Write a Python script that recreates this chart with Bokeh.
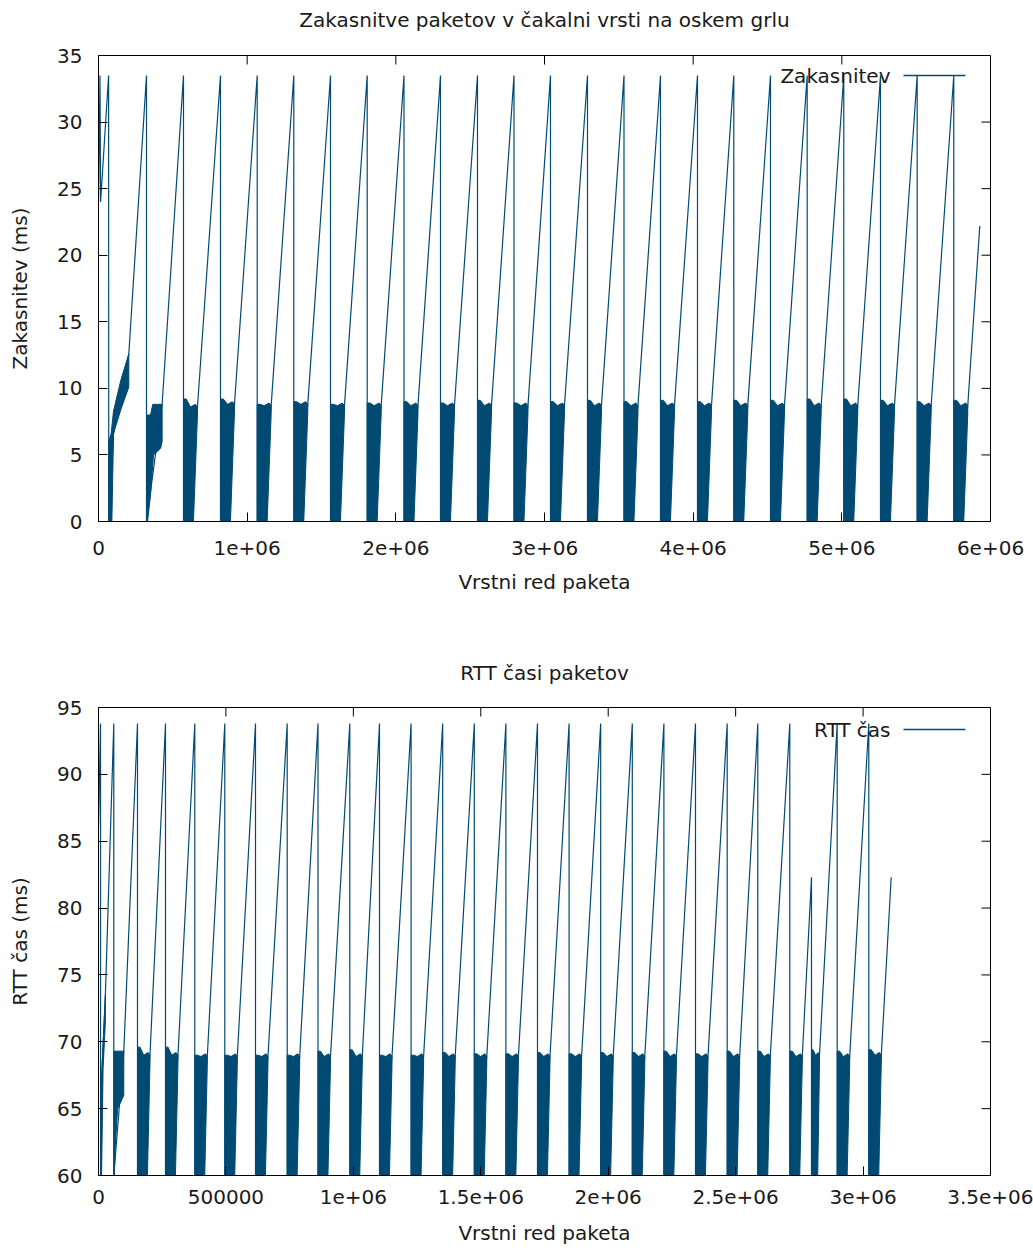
from bokeh.plotting import figure
from bokeh.models import Range1d, FixedTicker, Label, Arrow, LinearAxis
from bokeh.layouts import column
from bokeh.embed import file_html
from bokeh.resources import INLINE

COLOR = "#004a73"
FONT = "DejaVu Sans"
FS = "20px"
TXT = "#1a1a1a"
TICK_PX = 9

# ---------------- top panel: queue delay ----------------
TOP_TITLE = "Zakasnitve paketov v čakalni vrsti na oskem grlu"
TOP_YLABEL = "Zakasnitev (ms)"
TOP_LEGEND = "Zakasnitev"
XLABEL = "Vrstni red paketa"
TOP_X_TICKS = [0, 1000000, 2000000, 3000000, 4000000, 5000000, 6000000]
TOP_X_LABELS = ["0", "1e+06", "2e+06", "3e+06", "4e+06", "5e+06", "6e+06"]
TOP_Y_TICKS = [0, 5, 10, 15, 20, 25, 30, 35]

# opening trace (slow start) ending at start of the first ramp
top_head_x = [0, 10000, 14000, 68000, 69000, 101000, 204000]
top_head_y = [24.0, 33.5, 24.0, 33.5, 0.0, 6.6, 12.6]
# first noisy band (outline)
top_band0_x = [69000, 69000, 85000, 101000, 150000, 204000, 204000, 150000, 101000, 90000]
top_band0_y = [0.0, 6.0, 6.6, 8.3, 10.6, 12.6, 10.1, 8.4, 6.6, 0.0]
# second noisy block with raised floor (outline)
top_band1_x = [322900, 322900, 350000, 365000, 428000, 428000, 418000, 370000, 350000, 330000]
top_band1_y = [0.0, 8.0, 8.0, 8.8, 8.8, 6.0, 5.5, 5.0, 2.0, 0.0]
top_band1_end = (428000, 8.8)

top_peak_x = [322900, 571700, 820600, 1067500, 1313700, 1560500, 1807400, 2054900,
              2300400, 2549300, 2794800, 3040300, 3289200, 3534700, 3780200, 4029100,
              4273300, 4520100, 4766900, 5013100, 5260000, 5506800, 5753000]
top_peak_y = [33.5, 33.5, 33.5, 33.5, 33.5, 33.5, 33.5, 33.5, 33.5, 33.5, 33.5, 33.5,
              33.5, 33.5, 33.5, 33.5, 33.5, 33.5, 33.5, 33.5, 33.5, 33.5, 33.5]
# noisy blocks following peaks 2..23
top_blk_end = [665700, 914600, 1161500, 1407700, 1654500, 1901400, 2148900, 2394400,
               2643300, 2888800, 3134300, 3383200, 3628700, 3874200, 4123100, 4367300,
               4614100, 4860900, 5107100, 5354000, 5600800, 5847000]
top_blk_foot = [638700, 887600, 1134500, 1380700, 1627500, 1874400, 2121900, 2367400,
                2616300, 2861800, 3107300, 3356200, 3601700, 3847200, 4096100, 4340300,
                4587100, 4833900, 5080100, 5327000, 5573800, 5820000]
top_blk_hi = [9.2, 9.2, 8.8, 9.0, 8.8, 8.9, 9.0, 8.9, 9.1, 8.9, 9.0, 9.1,
              9.0, 9.1, 9.0, 9.1, 9.1, 9.2, 9.2, 9.1, 9.0, 9.1]
top_blk_lvl = [8.6, 8.8, 8.7, 8.8, 8.7, 8.7, 8.7, 8.7, 8.7, 8.7, 8.7, 8.7,
               8.7, 8.7, 8.7, 8.7, 8.7, 8.7, 8.7, 8.7, 8.7, 8.7]
top_tail = (5927900, 22.2)

# ---------------- bottom panel: RTT ----------------
BOT_TITLE = "RTT časi paketov"
BOT_YLABEL = "RTT čas (ms)"
BOT_LEGEND = "RTT čas"
BOT_X_TICKS = [0, 500000, 1000000, 1500000, 2000000, 2500000, 3000000, 3500000]
BOT_X_LABELS = ["0", "500000", "1e+06", "1.5e+06", "2e+06", "2.5e+06", "3e+06", "3.5e+06"]
BOT_Y_TICKS = [60, 65, 70, 75, 80, 85, 90, 95]

bot_head_x = [0, 8000, 8000, 15000, 27000]
bot_head_y = [86.0, 93.8, 60.0, 68.5, 73.5]
bot_band0_x = [8000, 8000, 15000, 27000, 27000, 18000, 12000]
bot_band0_y = [60.0, 66.0, 68.5, 73.5, 71.5, 68.0, 60.0]
bot_band1_x = [60030, 60030, 99300, 99300, 90000, 75000, 65000, 62000]
bot_band1_y = [60.0, 69.3, 69.3, 66.0, 65.6, 65.0, 62.0, 60.0]
bot_band1_end = (99300, 69.3)

bot_peak_x = [60030, 153020, 262890, 377850, 495570, 616020, 740410, 861260, 986030,
              1102570, 1226560, 1350550, 1474540, 1598520, 1722510, 1846500, 1970490,
              2094480, 2218470, 2342460, 2466840, 2586910, 2712470, 2797610, 2898450,
              3022440]
bot_peak_y = [93.8, 93.8, 93.8, 93.8, 93.8, 93.8, 93.8, 93.8, 93.8, 93.8, 93.8, 93.8,
              93.8, 93.8, 93.8, 93.8, 93.8, 93.8, 93.8, 93.8, 93.8, 93.8, 93.8, 82.3,
              93.8, 93.8]
bot_blk_end = [202000, 311900, 426900, 544600, 665000, 789400, 910300, 1035000,
               1151600, 1275600, 1399600, 1523500, 1647500, 1771500, 1895500, 2019500,
               2143500, 2267500, 2391500, 2515800, 2635900, 2761500, 2829000, 2947500,
               3071500]
bot_blk_foot = [192000, 301900, 416900, 534600, 655000, 779400, 900300, 1025000,
                1141600, 1265600, 1389600, 1513500, 1637500, 1761500, 1885500, 2009500,
                2133500, 2257500, 2381500, 2505800, 2625900, 2751500, 2822000, 2937500,
                3061500]
bot_blk_hi = [69.6, 69.6, 69.0, 69.0, 69.0, 69.0, 69.3, 69.4, 69.0, 69.0, 69.2, 69.1,
              69.1, 69.2, 69.1, 69.2, 69.2, 69.3, 69.1, 69.3, 69.3, 69.3, 69.4, 69.3, 69.4]
bot_blk_lvl = [69.0, 69.0, 68.9, 68.9, 68.9, 68.9, 68.9, 68.9, 68.9, 68.9, 68.9, 68.9,
               68.9, 68.9, 68.9, 68.9, 68.9, 68.9, 68.9, 68.9, 68.9, 68.9, 69.0, 68.9, 69.0]
bot_tail = (3110330, 82.3)


def style(p, title, xticks, xlabels, yticks, ylabel, xr, yr, fw, fh,
          tick_standoff, xlabel_standoff, title_standoff):
    p.xgrid.visible = False
    p.ygrid.visible = False
    p.outline_line_color = "black"
    p.background_fill_color = "white"
    p.border_fill_color = "white"
    # title drawn as the label of an empty axis above the frame
    top_ax = LinearAxis(ticker=FixedTicker(ticks=[]), axis_label=title,
                        axis_line_color=None, major_tick_line_color=None,
                        minor_tick_line_color=None, axis_label_standoff=title_standoff,
                        axis_label_text_font=FONT, axis_label_text_font_size=FS,
                        axis_label_text_font_style="normal", axis_label_text_color=TXT)
    p.add_layout(top_ax, "above")
    for ax in p.xaxis:
        if ax is top_ax:
            continue
        ax.ticker = FixedTicker(ticks=xticks)
        ax.major_label_overrides = {t: l for t, l in zip(xticks, xlabels)}
        ax.axis_label = XLABEL
        ax.axis_label_standoff = xlabel_standoff
        ax.major_label_standoff = tick_standoff
    for ax in p.yaxis:
        ax.ticker = FixedTicker(ticks=yticks)
        ax.axis_label = ylabel
        ax.axis_label_standoff = 22
        ax.major_label_standoff = 16
    for ax in p.axis:
        if ax is top_ax:
            continue
        ax.axis_line_color = "black"
        ax.major_tick_line_color = "black"
        ax.major_tick_in = TICK_PX
        ax.major_tick_out = 0
        ax.minor_tick_line_color = None
        ax.major_label_text_font = FONT
        ax.major_label_text_font_size = FS
        ax.major_label_text_color = TXT
        ax.axis_label_text_font = FONT
        ax.axis_label_text_font_size = FS
        ax.axis_label_text_font_style = "normal"
        ax.axis_label_text_color = TXT
    # mirrored inward ticks on the top and right frame edges
    dy = TICK_PX * (yr[1] - yr[0]) / fh
    dx = TICK_PX * (xr[1] - xr[0]) / fw
    p.segment(x0=xticks, y0=[yr[1]] * len(xticks), x1=xticks, y1=[yr[1] - dy] * len(xticks),
              line_color="black", line_width=1)
    p.segment(x0=[xr[1]] * len(yticks), y0=yticks, x1=[xr[1] - dx] * len(yticks), y1=yticks,
              line_color="black", line_width=1)


def add_legend(p, text, sx_text, sx0, sx1, sy):
    p.add_layout(Label(x=sx_text, y=sy, x_units="screen", y_units="screen", text=text,
                       text_align="right", text_baseline="middle", text_font=FONT,
                       text_font_size=FS, text_color=TXT))
    p.add_layout(Arrow(end=None, x_start=sx0, y_start=sy, x_end=sx1, y_end=sy,
                       start_units="screen", end_units="screen",
                       line_color=COLOR, line_width=1.3))


def blocks(peaks, ends, foots, his, lvls, floor):
    xs, ys = [], []
    for s, e, f, h, l in zip(peaks, ends, foots, his, lvls):
        w = e - s
        xs.append([s, s, s + 0.2 * w, s + 0.5 * w, s + 0.85 * w, e, e, f])
        ys.append([floor, h, h, l, l + 0.2, l, l - 0.6, floor])
    return xs, ys


def trace(head_x, head_y, peaks_x, peaks_y, band1_end, ends, lvls, tail, floor):
    lx, ly = list(head_x), list(head_y)
    for i, (px, py) in enumerate(zip(peaks_x, peaks_y)):
        lx += [px, px]
        ly += [py, floor]
        if i == 0:
            lx.append(band1_end[0]); ly.append(band1_end[1])
        else:
            lx.append(ends[i - 1]); ly.append(lvls[i - 1])
    lx.append(tail[0]); ly.append(tail[1])
    return lx, ly


# ---- top figure ----
XR1, YR1 = (0, 6000000), (0, 35)
p1 = figure(width=1033, height=625, x_range=Range1d(*XR1), y_range=Range1d(*YR1),
            output_backend="svg", toolbar_location=None,
            min_border_left=98, min_border_right=43, min_border_top=55, min_border_bottom=104)
style(p1, TOP_TITLE, TOP_X_TICKS, TOP_X_LABELS, TOP_Y_TICKS, TOP_YLABEL, XR1, YR1, 892, 466,
      19, 12, 24)
bx, by = blocks(top_peak_x[1:], top_blk_end, top_blk_foot, top_blk_hi, top_blk_lvl, 0.0)
bx += [top_band0_x, top_band1_x]
by += [top_band0_y, top_band1_y]
p1.patches(bx, by, fill_color=COLOR, line_color=COLOR, line_width=1)
lx, ly = trace(top_head_x, top_head_y, top_peak_x, top_peak_y, top_band1_end,
               top_blk_end, top_blk_lvl, top_tail, 0.0)
p1.line(lx, ly, line_color=COLOR, line_width=1.2)
add_legend(p1, TOP_LEGEND, 792, 805, 867, 446)

# ---- bottom figure ----
XR2, YR2 = (0, 3500000), (60, 95)
p2 = figure(width=1033, height=625, x_range=Range1d(*XR2), y_range=Range1d(*YR2),
            output_backend="svg", toolbar_location=None,
            min_border_left=98, min_border_right=43, min_border_top=82, min_border_bottom=75)
style(p2, BOT_TITLE, BOT_X_TICKS, BOT_X_LABELS, BOT_Y_TICKS, BOT_YLABEL, XR2, YR2, 892, 468,
      14, 14, 23)
bx, by = blocks(bot_peak_x[1:], bot_blk_end, bot_blk_foot, bot_blk_hi, bot_blk_lvl, 60.0)
bx += [bot_band0_x, bot_band1_x]
by += [bot_band0_y, bot_band1_y]
p2.patches(bx, by, fill_color=COLOR, line_color=COLOR, line_width=1)
lx, ly = trace(bot_head_x, bot_head_y, bot_peak_x, bot_peak_y, bot_band1_end,
               bot_blk_end, bot_blk_lvl, bot_tail, 60.0)
p2.line(lx, ly, line_color=COLOR, line_width=1.2)
add_legend(p2, BOT_LEGEND, 792, 805, 867, 446)

layout = column(p1, p2, spacing=0)
open("out.html", "w").write(file_html(layout, INLINE))
